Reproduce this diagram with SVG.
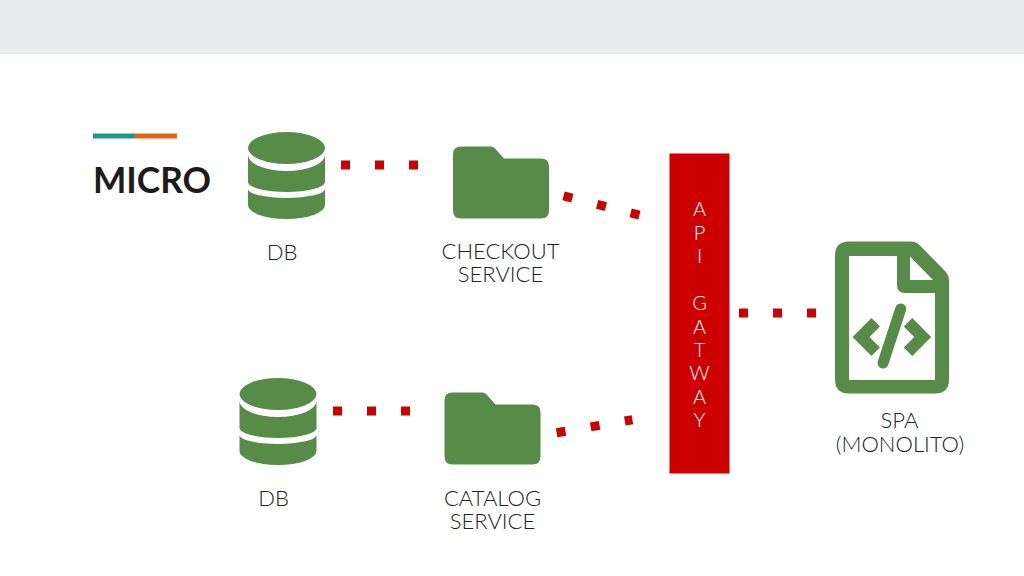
<svg xmlns="http://www.w3.org/2000/svg" width="1024" height="576" viewBox="0 0 1024 576">
<style>
.g{fill:#568c47}
.c{fill:none;stroke:#cc0000;stroke-width:9;stroke-dasharray:9 25}
.t{font-family:"Lato","Open Sans","Liberation Sans",sans-serif;font-weight:300;font-size:22px;fill:#222;text-anchor:middle}
.w{fill:#fff;font-size:20px}
</style>
<defs>
<g id="db" class="g">
<path d="M0 16A38.5 16 0 0 1 77 16A38.5 16 0 0 1 0 16Z"/>
<path d="M0 23A38.5 16 0 0 0 77 23V50A38.5 10 0 0 1 0 50Z"/>
<path d="M0 57A38.5 9 0 0 0 77 57V73A38.5 14 0 0 1 0 73Z"/>
</g>
<path id="folder" class="g" d="M8 0H38Q40 0 42 2L51 12H88Q96 12 96 20V64Q96 72 88 72H8Q0 72 0 64V8Q0 0 8 0Z"/>
</defs>
<rect id="header" x="0" y="0" width="1024" height="54" fill="#e9edee"/>
<rect x="93" y="133.500" width="42" height="5" fill="#1b9a8a"/>
<rect x="135" y="133.500" width="42" height="5" fill="#e8630f"/>
<text x="93" y="193" font-family="Lato,'Open Sans',sans-serif" font-weight="700" font-size="36" fill="#1c1c1c" textLength="118" lengthAdjust="spacingAndGlyphs">MICRO</text>
<g id="connectors">
<line class="c" x1="341" y1="165" x2="418" y2="165"/>
<line class="c" x1="333" y1="411" x2="410" y2="411"/>
<line class="c" x1="739" y1="313" x2="816" y2="313"/>
<line class="c" x1="563.600" y1="195.900" x2="639.400" y2="215.100" style="stroke-dasharray:9 25.600"/>
<line class="c" x1="556.600" y1="432.800" x2="632.400" y2="419.700" style="stroke-dasharray:9 25.600"/>
</g>
<g id="db-1"><use href="#db" x="248" y="132"/><text class="t" x="282" y="260">DB</text></g>
<g id="db-2"><use href="#db" x="239.500" y="378"/><text class="t" x="273.500" y="505.500">DB</text></g>
<g id="checkout-service"><use href="#folder" x="453" y="146.500"/><text class="t" x="500.500" y="259">CHECKOUT</text><text class="t" x="500.500" y="282">SERVICE</text></g>
<g id="catalog-service"><use href="#folder" x="444.500" y="392.500"/><text class="t" x="492.500" y="505.500">CATALOG</text><text class="t" x="492.500" y="529">SERVICE</text></g>
<g id="api-gateway">
<rect x="669.500" y="153.500" width="60" height="320" fill="#cc0000"/>
<text class="t w" x="699.500" y="216">A<tspan x="699.500" y="239.500">P</tspan><tspan x="699.500" y="263">I</tspan><tspan x="699.500" y="310">G</tspan><tspan x="699.500" y="333.500">A</tspan><tspan x="699.500" y="357">T</tspan><tspan x="699.500" y="380">W</tspan><tspan x="699.500" y="403.500">A</tspan><tspan x="699.500" y="427">Y</tspan></text>
</g>
<g id="spa">
<path class="g" fill-rule="evenodd" d="M849 241.500H911Q916 241.500 920 245.500L945 271Q949 275 949 281V379.500Q949 393.500 935 393.500H849Q835 393.500 835 379.500V255.500Q835 241.500 849 241.500ZM849 256V380H935V293H905Q897 293 897 285V256ZM910 256.500V280H933Z"/>
<line x1="900.700" y1="309" x2="883" y2="363" stroke="#568c47" stroke-width="11" stroke-linecap="round"/>
<polyline points="875.700,322.300 861,337 875.700,351.700" fill="none" stroke="#568c47" stroke-width="12"/>
<polyline points="908,322.300 922.700,337 908,351.700" fill="none" stroke="#568c47" stroke-width="12"/>
<text class="t" x="899.500" y="428">SPA</text><text class="t" x="900" y="451.500">(MONOLITO)</text>
</g>
</svg>
